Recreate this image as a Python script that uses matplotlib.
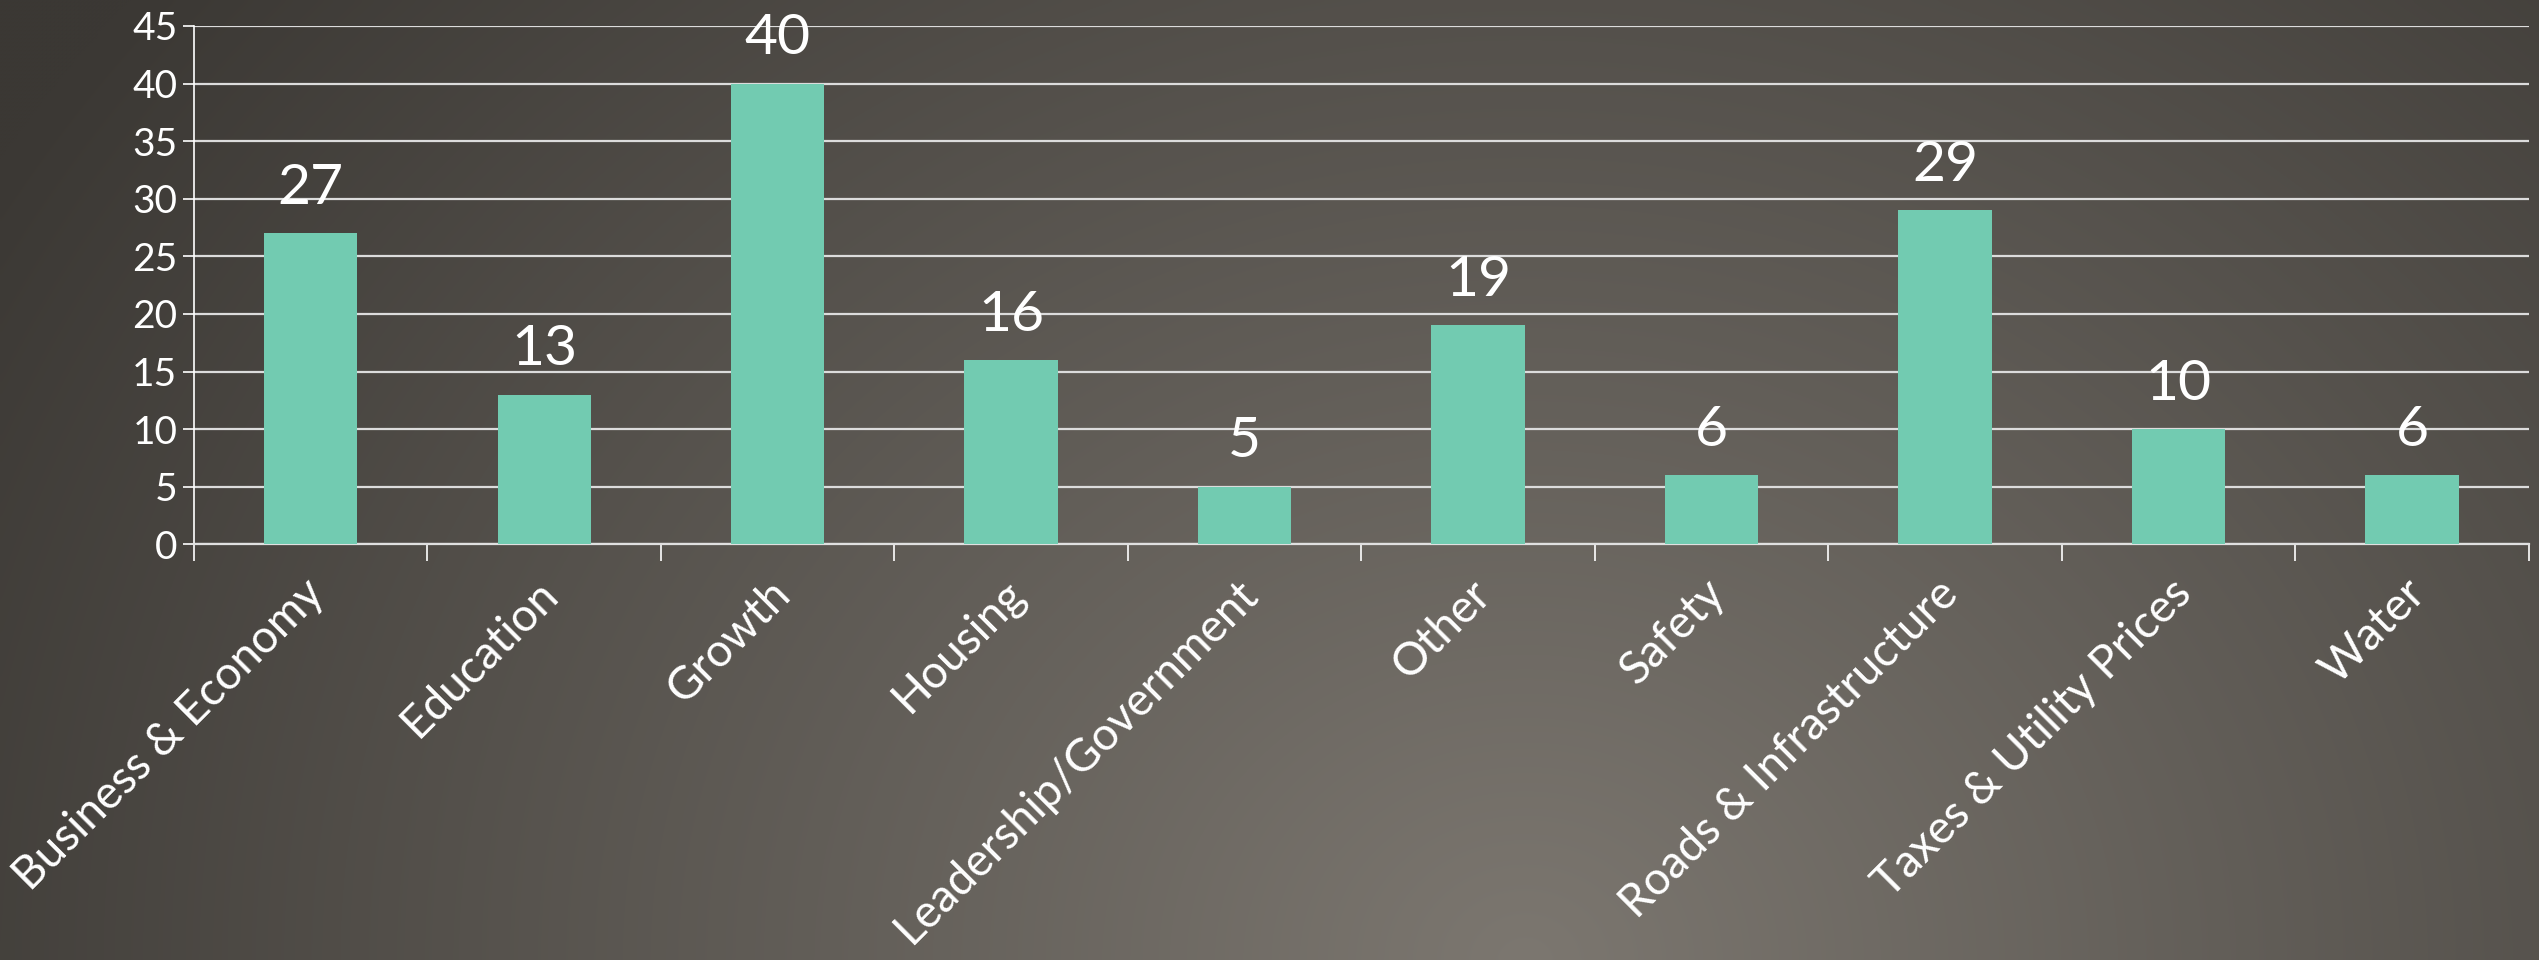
import numpy as np
import matplotlib.pyplot as plt
from matplotlib.transforms import ScaledTranslation

categories = ['Business & Economy', 'Education', 'Growth', 'Housing',
              'Leadership/Government', 'Other', 'Safety',
              'Roads & Infrastructure', 'Taxes & Utility Prices', 'Water']
counts = [27, 13, 40, 16, 5, 19, 6, 29, 10, 6]
yticks = [0, 5, 10, 15, 20, 25, 30, 35, 40, 45]

plt.rcParams['font.family'] = ['Lato', 'DejaVu Sans']

fig = plt.figure(figsize=(25.39, 9.6), dpi=100)

# background: soft elliptical gradient, lighter near bottom middle
bg = fig.add_axes([0, 0, 1, 1], zorder=-10)
h, w = 240, 635
yy, xx = np.mgrid[0:h, 0:w]
d = np.sqrt(((xx - 0.6 * w) / (0.7 * w)) ** 2 + ((yy - 1.0 * h) / (1.6 * h)) ** 2)
d = np.clip(d, 0, 1)
dark = np.array([59, 56, 52]) / 255
light = np.array([124, 119, 112]) / 255
img = light[None, None, :] * (1 - d[..., None]) + dark[None, None, :] * d[..., None]
bg.imshow(img, aspect='auto', extent=[0, 1, 0, 1], interpolation='bicubic')
bg.axis('off')

ax = fig.add_axes([0.0764, 0.433, 0.9196, 0.54])
ax.patch.set_alpha(0)

x = np.arange(len(categories))
bars = ax.bar(x, counts, width=0.4, color='#72cbb1', zorder=3)

for xi, v in zip(x, counts):
    ax.annotate(str(v), (xi, v), xytext=(0, 14), textcoords='offset points',
                ha='center', va='bottom', color='white', fontsize=41)

ax.set_ylim(0, 45)
ax.set_xlim(-0.5, len(categories) - 0.5)
ax.set_yticks(yticks)
ax.tick_params(axis='y', colors='white', labelsize=28, length=8, width=1.2, pad=4)
ax.yaxis.grid(True, color='#dcdcdc', lw=1.6, zorder=0)

ax.set_xticks(np.arange(-0.5, len(categories), 1.0))
ax.set_xticklabels([])
ax.tick_params(axis='x', which='major', colors='white', length=12, width=1.2)
ax.set_xticks(x, minor=True)
ax.set_xticklabels(categories, minor=True, rotation=45, ha='right',
                   rotation_mode='anchor', fontsize=33, color='white')
ax.tick_params(axis='x', which='minor', length=0, pad=20)
for lab in ax.get_xticklabels(minor=True):
    lab.set_transform(lab.get_transform() + ScaledTranslation(-6 / 72, 0, fig.dpi_scale_trans))

for s in ['top', 'right']:
    ax.spines[s].set_visible(False)
ax.spines['left'].set_color('white')
ax.spines['left'].set_linewidth(1.2)
ax.spines['bottom'].set_color('#e0e0e0')
ax.spines['bottom'].set_linewidth(1.6)

fig.savefig('out.png', dpi=100)
